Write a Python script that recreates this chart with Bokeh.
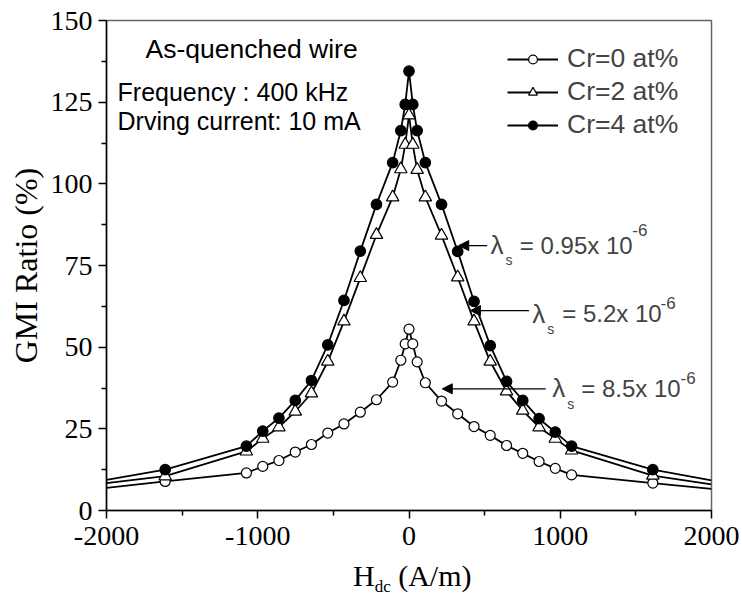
from bokeh.plotting import figure
from bokeh.models import Range1d, Label, Arrow, NormalHead, Legend, LegendItem, FixedTicker, Div
from bokeh.layouts import column
from bokeh.embed import file_html
from bokeh.resources import INLINE

# ---------------- data ----------------
h_field = [-1612, -1075, -967, -860, -752, -645, -537, -430, -322, -215, -108, -54, -25, 0,
           25, 54, 108, 215, 322, 430, 537, 645, 752, 860, 967, 1075, 1612]
gmi_cr0 = [8.9, 11.5, 13.5, 15.3, 17.9, 20.2, 23.7, 26.5, 30.1, 33.9, 39.3, 46.0, 51.0, 55.5,
           51.0, 45.5, 39.1, 33.5, 29.6, 25.7, 23.0, 19.9, 17.5, 15.0, 12.9, 10.9, 8.4]
gmi_cr2 = [10.5, 18.1, 22.0, 25.5, 30.3, 35.9, 45.6, 57.9, 71.2, 84.4, 95.9, 104.5, 112.0, 121.0,
           112.0, 104.3, 95.9, 84.2, 71.4, 57.9, 45.6, 36.5, 30.6, 25.5, 22.0, 18.4, 10.7]
gmi_cr4 = [12.5, 19.7, 24.3, 28.3, 33.7, 39.8, 50.7, 64.3, 79.4, 93.7, 106.5, 116.3, 124.3, 134.5,
           124.3, 116.3, 106.5, 93.7, 79.3, 64.0, 50.5, 39.5, 33.7, 28.1, 24.0, 19.7, 12.5]
# the curves continue past the frame edges
edge_h = [-2000, 2000]
edge_cr0 = [6.9, 6.6]
edge_cr2 = [8.4, 8.0]
edge_cr4 = [9.4, 9.2]

series_labels = ["Cr=0 at%", "Cr=2 at%", "Cr=4 at%"]
x_ticks = [-2000, -1000, 0, 1000, 2000]
x_tick_labels = ["-2000", "-1000", "0", "1000", "2000"]
x_minor = [-1500, -500, 500, 1500]
y_ticks = [0, 25, 50, 75, 100, 125, 150]
y_minor = [12.5, 37.5, 62.5, 87.5, 112.5, 137.5]

# annotations (lambda_s values)
lam_values = ["= 0.95x 10", "= 5.2x 10", "= 8.5x 10"]
lam_x = [539, 815, 947]
lam_y = [81.25, 60.25, 37.35]
sub_x = [638, 914, 1046]
sub_y = [76.8, 55.6, 32.7]
val_x = [733, 1013, 1139]
exp_x = [1476, 1663, 1795]
exp_y = [86.0, 63.6, 40.7]
arrow_start_x = [517, 793, 904]
arrow_end_x = [329, 406, 220]
arrow_y = [81.1, 61.2, 37.25]

info_lines = ["As-quenched wire", "Frequency : 400 kHz", "Drving current: 10 mA"]
info_x = [-1742, -1927, -1927]
info_y = [141.4, 128.2, 119.2]
info_sizes = ["26.5px", "25px", "25px"]

SERIF = "Liberation Serif"
SANS = "Liberation Sans"

p = figure(width=742, height=560, output_backend="svg", toolbar_location=None,
           x_range=Range1d(-2000, 2000), y_range=Range1d(0, 150),
           min_border_left=106, min_border_right=31, min_border_top=20, min_border_bottom=50)
p.xgrid.visible = False
p.ygrid.visible = False
p.outline_line_color = "#666666"
p.outline_line_width = 1.5
p.background_fill_color = "white"

for ax, tk, mn in [(p.xaxis, x_ticks, x_minor), (p.yaxis, y_ticks, y_minor)]:
    ax.ticker = FixedTicker(ticks=tk, minor_ticks=mn)
    ax.major_label_text_font = SERIF
    ax.major_label_text_font_size = "28px"
    ax.major_label_text_color = "black"
    ax.axis_line_width = 1.5
    ax.axis_line_color = "black"
    ax.major_tick_line_width = 1.5
    ax.minor_tick_line_width = 1.5
    ax.major_tick_in = 0
    ax.major_tick_out = 8
    ax.minor_tick_in = 0
    ax.minor_tick_out = 5

p.xaxis.major_label_overrides = {t: s for t, s in zip(x_ticks, x_tick_labels)}
p.xaxis.major_label_standoff = 8
p.yaxis.major_label_standoff = 6
p.yaxis.axis_label = "GMI Ratio (%)"
p.yaxis.axis_label_text_font = SERIF
p.yaxis.axis_label_text_font_size = "32px"
p.yaxis.axis_label_text_font_style = "normal"
p.yaxis.axis_label_text_color = "black"
p.yaxis.axis_label_standoff = 4

# lines
line_renderers = []
for vals, edge in [(gmi_cr0, edge_cr0), (gmi_cr2, edge_cr2), (gmi_cr4, edge_cr4)]:
    xs = [edge_h[0]] + h_field + [edge_h[1]]
    ys = [edge[0]] + vals + [edge[1]]
    line_renderers.append(p.line(xs, ys, line_color="black", line_width=1.8))

m0 = p.scatter(h_field, gmi_cr0, marker="circle", size=10, fill_color="white", line_color="black", line_width=1.2)
m2 = p.scatter(h_field, gmi_cr2, marker="triangle", size=12.5, fill_color="white", line_color="black", line_width=1.2)
m4 = p.scatter(h_field, gmi_cr4, marker="circle", size=10.5, fill_color="black", line_color="black", line_width=1.2)
markers = [m0, m2, m4]

items = [LegendItem(label=series_labels[i], renderers=[line_renderers[i], markers[i]]) for i in range(3)]
legend = Legend(items=items, location=(401, 369.5), border_line_color=None, background_fill_alpha=0,
                padding=0, margin=0, spacing=1, glyph_width=51, glyph_height=22, label_height=32,
                label_standoff=9, label_text_font=SANS, label_text_font_size="26.5px")
p.add_layout(legend)

for t, x, y, fs in zip(info_lines, info_x, info_y, info_sizes):
    p.add_layout(Label(x=x, y=y, text=t, text_font=SANS, text_font_size=fs,
                       text_baseline="alphabetic", text_color="black"))

for i in range(3):
    p.add_layout(Arrow(end=NormalHead(size=10, fill_color="black", line_color="black"),
                       x_start=arrow_start_x[i], y_start=arrow_y[i],
                       x_end=arrow_end_x[i], y_end=arrow_y[i], line_width=1.2, line_color="black"))
    p.add_layout(Label(x=lam_x[i], y=lam_y[i], text="\u03bb", text_font=SANS, text_font_size="26px",
                       text_baseline="alphabetic"))
    p.add_layout(Label(x=sub_x[i], y=sub_y[i], text="s", text_font=SANS, text_font_size="14px",
                       text_baseline="alphabetic"))
    p.add_layout(Label(x=val_x[i], y=lam_y[i], text=lam_values[i], text_font=SANS, text_font_size="24px",
                       text_baseline="alphabetic"))
    p.add_layout(Label(x=exp_x[i], y=exp_y[i], text="-6", text_font=SANS, text_font_size="17px",
                       text_baseline="alphabetic"))

# x axis title with subscript (HTML, below the figure)
xtitle = Div(
    text=("<div style=\"font-family:'Liberation Serif';font-size:30px;line-height:30px;"
          "white-space:nowrap;padding-left:348px;margin-top:-4px;color:black\">"
          "H<span style=\"font-size:17px;position:relative;top:6px\">dc</span> (A/m)</div>"),
    width=742, height=36)

layout = column(p, xtitle, spacing=0)
open("out.html", "w").write(file_html(layout, INLINE))
